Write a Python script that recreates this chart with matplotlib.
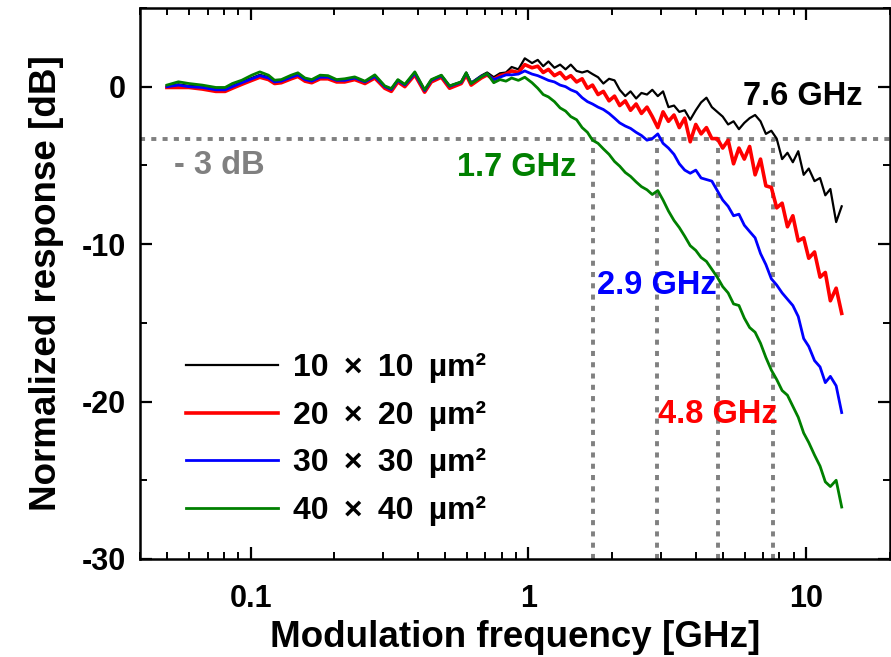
import matplotlib
matplotlib.use("Agg")
import matplotlib.pyplot as plt
from matplotlib.ticker import FixedLocator, FixedFormatter, LogLocator, NullFormatter, MultipleLocator

plt.rcParams["font.family"] = ["Liberation Sans", "DejaVu Sans"]
plt.rcParams["font.weight"] = "bold"
plt.rcParams["axes.unicode_minus"] = False

# modulation frequency grid [GHz]
freq = [0.050, 0.055, 0.060, 0.067, 0.075, 0.081, 0.086, 0.093, 0.101, 0.108,
        0.116, 0.122, 0.129, 0.140, 0.148, 0.157, 0.166, 0.178, 0.190, 0.204,
        0.218, 0.237, 0.258, 0.280, 0.304, 0.321, 0.339, 0.359, 0.390, 0.423,
        0.447, 0.486, 0.520, 0.573, 0.597, 0.622, 0.676,
        0.71, 0.75, 0.79, 0.83, 0.87, 0.92, 0.97,
        1.03, 1.08, 1.13, 1.18, 1.24, 1.30, 1.36, 1.42, 1.49, 1.56,
        1.63, 1.70, 1.78, 1.86, 1.95, 2.04, 2.13, 2.23, 2.33, 2.44,
        2.55, 2.67, 2.79, 2.92, 3.05, 3.19, 3.34, 3.49, 3.65, 3.82,
        4.00, 4.18, 4.37, 4.57, 4.78, 5.00, 5.23, 5.47, 5.72, 5.98,
        6.25, 6.54, 6.84, 7.15, 7.48, 7.82, 8.18, 8.55, 8.94, 9.35,
        9.78, 10.2, 10.7, 11.2, 11.7, 12.2, 12.8, 13.4]

resp_10 = [0.05, 0.15, 0.05, 0.0, -0.15, -0.15, 0.05, 0.3, 0.55, 0.75,
           0.6, 0.35, 0.4, 0.65, 0.8, 0.5, 0.4, 0.68, 0.65, 0.42,
           0.45, 0.58, 0.32, 0.7, 0.02, -0.15, 0.42, 0.12, 0.9, -0.22,
           0.42, 0.72, 0.05, 0.3, 0.9, 0.25, 0.7,
           0.9, 0.6, 0.85, 0.9, 1.25, 1.1, 1.8,
           1.5, 1.7, 1.3, 1.6, 1.2, 1.4, 1.1, 1.4, 1.0, 0.9,
           1.0, 0.8, 0.6, 0.2, 0.5, 0.4, -0.2, -0.6, -0.3, -0.75,
           -0.4, -0.5, -0.2, -0.6, -0.3, -1.3, -1.2, -1.6, -1.5, -2.1,
           -1.5, -1.0, -0.7, -1.3, -1.6, -1.9, -2.4, -2.2, -2.7, -2.3,
           -2.0, -1.8, -2.2, -3.0, -2.8, -3.3, -4.6, -4.2, -4.8, -4.1,
           -5.6, -5.2, -6.0, -5.8, -6.9, -6.5, -8.6, -7.6]

resp_20 = [-0.05, -0.05, -0.05, -0.15, -0.3, -0.3, -0.1, 0.15, 0.4, 0.6,
           0.45, 0.2, 0.25, 0.5, 0.65, 0.35, 0.25, 0.5, 0.5, 0.3,
           0.3, 0.45, 0.2, 0.55, -0.1, -0.3, 0.3, 0.0, 0.75, -0.35,
           0.3, 0.6, -0.1, 0.2, 0.75, 0.1, 0.55,
           0.75, 0.45, 0.7, 0.8, 1.0, 0.9, 1.4,
           1.2, 1.3, 0.9, 1.1, 0.7, 0.9, 0.5, 0.7, 0.3, 0.5,
           -0.1, 0.1, -0.5, -0.3, -0.9, -0.6, -1.2, -0.9, -1.5, -1.1,
           -1.7, -1.3, -1.9, -2.6, -1.6, -2.2, -1.8, -2.6, -2.0, -3.5,
           -2.4, -3.0, -2.6, -3.3, -3.3, -3.9, -3.4, -4.9, -3.9, -4.6,
           -3.8, -5.6, -4.6, -6.3, -6.4, -7.7, -7.4, -8.9, -8.2, -9.8,
           -9.6, -10.9, -10.5, -12.1, -11.8, -13.6, -12.8, -14.4]

resp_30 = [0.0, 0.1, 0.0, -0.05, -0.2, -0.2, 0.0, 0.25, 0.5, 0.7,
           0.55, 0.3, 0.35, 0.6, 0.75, 0.45, 0.35, 0.6, 0.6, 0.4,
           0.4, 0.55, 0.3, 0.65, 0.0, -0.18, 0.4, 0.1, 0.85, -0.25,
           0.4, 0.68, 0.02, 0.28, 0.85, 0.22, 0.65,
           0.8, 0.45, 0.6, 0.75, 0.75, 0.8, 1.0,
           0.8, 0.7, 0.55, 0.4, 0.3, 0.1, 0.0, -0.2, -0.35, -0.7,
           -0.95, -1.1, -1.3, -1.45, -1.7, -2.0, -2.3, -2.5, -2.65, -2.9,
           -3.1, -3.4, -3.3, -3.0, -3.6, -3.9, -4.3, -4.9, -5.3, -5.5,
           -5.3, -5.8, -5.9, -6.0, -6.6, -7.2, -7.6, -8.2, -8.1, -8.8,
           -9.2, -9.6, -10.6, -11.3, -12.2, -12.6, -13.1, -13.5, -13.9, -14.6,
           -16.0, -16.5, -17.4, -17.8, -18.8, -18.4, -19.0, -20.7]

resp_40 = [0.10, 0.31, 0.20, 0.10, -0.05, -0.05, 0.20, 0.41, 0.73, 0.94,
           0.73, 0.41, 0.45, 0.73, 0.88, 0.55, 0.45, 0.73, 0.70, 0.45,
           0.50, 0.62, 0.35, 0.75, 0.05, -0.12, 0.45, 0.15, 0.94, -0.20,
           0.45, 0.73, 0.05, 0.31, 0.88, 0.20, 0.62,
           0.84, 0.25, 0.45, 0.35, 0.55, 0.4, 0.6,
           0.25, -0.1, -0.5, -0.65, -0.95, -1.35, -1.55, -1.9, -2.1, -2.6,
           -2.9, -3.4, -3.6, -3.95, -4.3, -4.75, -5.05, -5.45, -5.7, -6.05,
           -6.35, -6.55, -6.85, -6.6, -7.2, -7.9, -8.5, -8.95, -9.5, -10.1,
           -10.4, -10.85, -11.1, -11.6, -12.1, -12.7, -13.1, -13.8, -13.9, -14.7,
           -15.3, -15.6, -16.3, -17.2, -18.0, -18.6, -19.3, -19.6, -20.3, -21.0,
           -22.0, -22.6, -23.4, -24.1, -25.1, -25.4, -25.0, -26.7]

# a thin space next to each word space widens the labels like the original
labels = ["10 \u2009×\u2009 10 \u2009µm²", "20 \u2009×\u2009 20 \u2009µm²",
          "30 \u2009×\u2009 30 \u2009µm²", "40 \u2009×\u2009 40 \u2009µm²"]
colors = ["black", "#ff0000", "#0000ff", "#008000"]
widths = [1.6, 2.6, 2.0, 2.0]

# -3 dB bandwidths [GHz]
f3db = [7.6, 4.8, 2.9, 1.7]
f3db_text = ["7.6 GHz", "4.8 GHz", "2.9 GHz", "1.7 GHz"]
level_3db = -3.3

fig = plt.figure(figsize=(8.91, 6.57), dpi=100)
ax = fig.add_axes([0.1571, 0.1492, 0.8418, 0.8387])

for y, lab, c, lw in zip([resp_10, resp_20, resp_30, resp_40], labels, colors, widths):
    ax.plot(freq, y, color=c, lw=lw, label=lab)

dots = (0, (1.3, 1.6))
ax.axhline(level_3db, color="#808080", lw=2.8, ls=dots, zorder=0)
for f in f3db:
    ax.plot([f, f], [-30, level_3db], color="#808080", lw=2.8, ls=dots, zorder=0)

ax.set_xscale("log")
ax.set_xlim(0.04, 20)
ax.set_ylim(-30, 5)

ax.xaxis.set_major_locator(FixedLocator([0.1, 1, 10]))
ax.xaxis.set_major_formatter(FixedFormatter(["0.1", "1", "10"]))
ax.xaxis.set_minor_locator(LogLocator(base=10, subs=[2, 3, 4, 5, 6, 7, 8, 9]))
ax.xaxis.set_minor_formatter(NullFormatter())
ax.yaxis.set_major_locator(FixedLocator([0, -10, -20, -30]))
ax.yaxis.set_minor_locator(MultipleLocator(5))

ax.tick_params(which="both", direction="in", top=True, right=True, labelsize=22)
ax.tick_params(which="major", length=8.5, width=1.6)
ax.tick_params(which="minor", length=4.8, width=1.4)
ax.tick_params(axis="x", pad=18)
ax.tick_params(axis="y", pad=10)
for s in ax.spines.values():
    s.set_linewidth(1.8)

ax.set_xlabel("Modulation frequency [GHz]", fontsize=26.5, fontweight="bold", labelpad=4)
ax.set_ylabel("Normalized response [dB]", fontsize=26.5, fontweight="bold", labelpad=13)

fs = 23.5
ax.annotate(f3db_text[0], (9.7, -0.6), color="black", fontsize=fs, ha="center", va="center")
ax.annotate(f3db_text[1], (4.8, -20.8), color="#ff0000", fontsize=fs, ha="center", va="center")
ax.annotate(f3db_text[2], (2.9, -12.6), color="#0000ff", fontsize=fs, ha="center", va="center")
ax.annotate(f3db_text[3], (1.49, -5.15), color="#008000", fontsize=fs, ha="right", va="center")
ax.annotate("- 3 dB", (0.053, -5.0), color="#808080", fontsize=fs, ha="left", va="center")

leg = ax.legend(loc="lower left", bbox_to_anchor=(0.062, 0.06), frameon=False,
                fontsize=23, handlelength=2.85, handletextpad=0.5, labelspacing=0.55,
                borderpad=0, borderaxespad=0)

fig.savefig("out.png", dpi=100)
